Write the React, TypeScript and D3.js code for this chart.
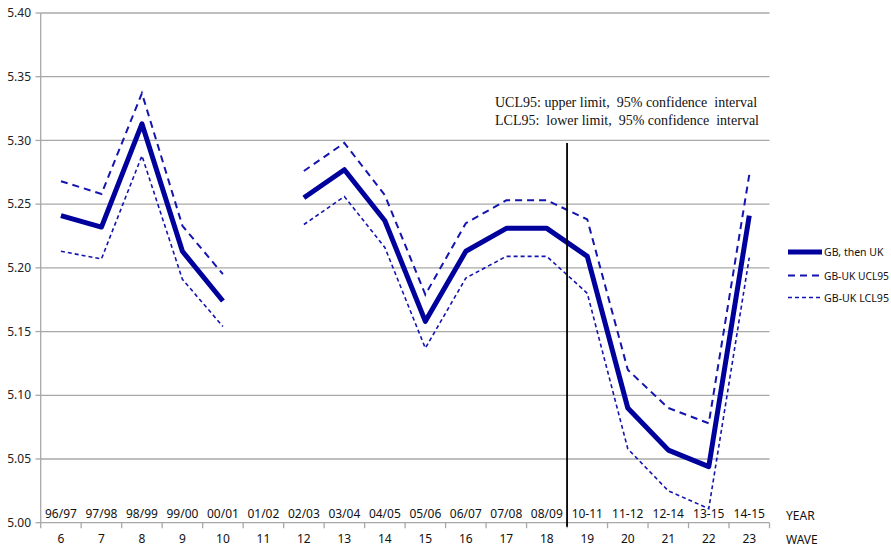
import React from "react";
import * as d3 from "d3";

const waves = ["6", "7", "8", "9", "10", "11", "12", "13", "14", "15", "16", "17", "18", "19", "20", "21", "22", "23"];
const years = ["96/97", "97/98", "98/99", "99/00", "00/01", "01/02", "02/03", "03/04", "04/05", "05/06", "06/07", "07/08", "08/09", "10-11", "11-12", "12-14", "13-15", "14-15"];

// wave 11 has no data
const gbUk = [5.241, 5.232, 5.313, 5.213, 5.174, null, 5.255, 5.277, 5.237, 5.158, 5.213, 5.231, 5.231, 5.209, 5.090, 5.057, 5.044, 5.241];
const ucl95 = [5.268, 5.258, 5.337, 5.233, 5.195, null, 5.276, 5.298, 5.257, 5.179, 5.235, 5.253, 5.253, 5.238, 5.120, 5.090, 5.078, 5.273];
const lcl95 = [5.213, 5.207, 5.288, 5.191, 5.154, null, 5.234, 5.256, 5.216, 5.137, 5.192, 5.209, 5.209, 5.180, 5.058, 5.025, 5.011, 5.208];

const yTicks = [5.0, 5.05, 5.1, 5.15, 5.2, 5.25, 5.3, 5.35, 5.4];

const BLUE = "#00009c";
const DASH_BLUE = "#1414b0";
const SANS = "'Noto Sans', sans-serif";

const App = () => {
  const x = d3.scaleBand<string>().domain(waves).range([40.7, 769.5]);
  const y = d3.scaleLinear().domain([5.0, 5.4]).range([522.7, 13]);
  const cx = (i: number) => (x(waves[i]) as number) + x.bandwidth() / 2;

  const line = d3
    .line<number | null>()
    .defined((d) => d != null)
    .x((_, i) => cx(i))
    .y((d) => y(d as number));

  const bottom = y(5.0);
  const splitX = x("19") as number;

  return (
    <svg width={891} height={547} style={{ position: "absolute", left: 0, top: 0, background: "#fff" }}>
      {/* grid */}
      {yTicks.slice(1).map((t) => (
        <line key={t} x1={40.7} x2={769.5} y1={y(t)} y2={y(t)} stroke="#a8a8a8" strokeWidth={1.3} />
      ))}
      {/* y axis */}
      <line x1={40.7} x2={40.7} y1={y(5.4)} y2={bottom} stroke="#a8a8a8" strokeWidth={1.3} />
      {yTicks.map((t) => (
        <g key={t}>
          <line x1={35.5} x2={40.7} y1={y(t)} y2={y(t)} stroke="#a8a8a8" strokeWidth={1.3} />
          <text x={31} y={y(t) + 4.2} textAnchor="end" fontFamily={SANS} fontSize={12} fill="#222">
            {t.toFixed(2)}
          </text>
        </g>
      ))}
      {/* x axis */}
      <line x1={40.7} x2={769.5} y1={bottom} y2={bottom} stroke="#a8a8a8" strokeWidth={1.3} />
      {waves.concat("end").map((w, i) => {
        const xx = i < waves.length ? (x(w) as number) : 769.5;
        return <line key={w} x1={xx} x2={xx} y1={bottom} y2={bottom + 5.5} stroke="#a8a8a8" strokeWidth={1.3} />;
      })}
      {waves.map((w, i) => (
        <g key={w}>
          <text x={cx(i)} y={bottom - 5} textAnchor="middle" fontFamily={SANS} fontSize={12} fill="#111">
            {years[i]}
          </text>
          <text x={cx(i)} y={bottom + 20} textAnchor="middle" fontFamily={SANS} fontSize={12} fill="#111">
            {w}
          </text>
        </g>
      ))}
      <text x={786} y={bottom - 3} fontFamily={SANS} fontSize={12} fill="#111">YEAR</text>
      <text x={786} y={bottom + 21} fontFamily={SANS} fontSize={12} fill="#111">WAVE</text>

      {/* series */}
      <path d={line(ucl95) ?? ""} fill="none" stroke={DASH_BLUE} strokeWidth={2} strokeDasharray="7,5" />
      <path d={line(lcl95) ?? ""} fill="none" stroke={DASH_BLUE} strokeWidth={1.6} strokeDasharray="4,3" />
      <path d={line(gbUk) ?? ""} fill="none" stroke={BLUE} strokeWidth={5} strokeLinejoin="round" />

      {/* split between wave 18 and 19 */}
      <line x1={splitX} x2={splitX} y1={143} y2={bottom + 4} stroke="#000" strokeWidth={1.8} />

      {/* note */}
      <text x={495} y={107} fontFamily="'Liberation Serif', serif" fontSize={14} fill="#111" style={{ whiteSpace: "pre" }}>
        {"UCL95: upper limit,  95% confidence  interval"}
      </text>
      <text x={495} y={125} fontFamily="'Liberation Serif', serif" fontSize={14} fill="#111" style={{ whiteSpace: "pre" }}>
        {"LCL95:  lower limit,  95% confidence  interval"}
      </text>

      {/* legend */}
      <g fontFamily={SANS} fontSize={10.5} fill="#111">
        <line x1={788} x2={822} y1={252} y2={252} stroke={BLUE} strokeWidth={5} />
        <text x={824} y={256}>GB, then UK</text>
        <line x1={788} x2={822} y1={275.5} y2={275.5} stroke={DASH_BLUE} strokeWidth={2} strokeDasharray="7,5" />
        <text x={824} y={279.5} textLength={65} lengthAdjust="spacingAndGlyphs">GB-UK UCL95</text>
        <line x1={788} x2={822} y1={297.5} y2={297.5} stroke={DASH_BLUE} strokeWidth={1.6} strokeDasharray="4,3" />
        <text x={824} y={301.5} textLength={65} lengthAdjust="spacingAndGlyphs">GB-UK LCL95</text>
      </g>
    </svg>
  );
};

export default App;
